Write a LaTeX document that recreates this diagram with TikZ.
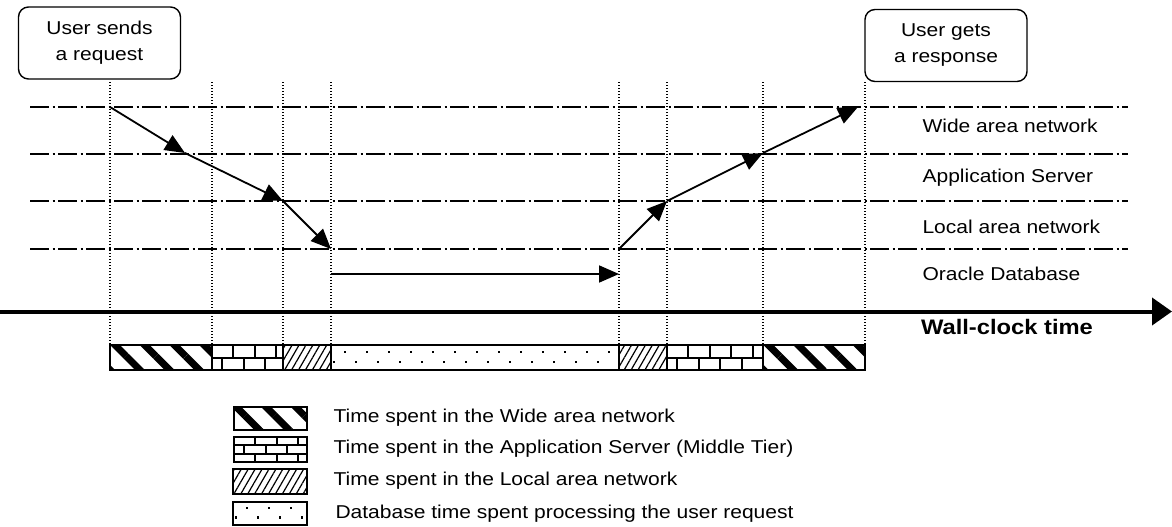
\documentclass[tikz,border=0pt]{standalone}
\usepackage{fontspec}
\setmainfont{Liberation Sans}[FakeStretch=1.13]
\usepackage{tikz}
\usetikzlibrary{arrows.meta, patterns.meta}
\tikzset{
    callout/.style={rectangle, rounded corners=10pt, draw=black, line width=1.4pt, minimum width=162pt, minimum height=72pt, align=center, font=\fontsize{18.6}{26}\selectfont},
    tier/.style={draw=black, line width=2pt, dash pattern=on 19pt off 3.5pt on 2pt off 3.5pt},
    guide/.style={draw=black, line width=1.2pt, dash pattern=on 1.2pt off 1.8pt},
    hop/.style={line width=1.8pt, -{Triangle[length=20pt, width=17pt]}},
    lbl/.style={anchor=base west, font=\fontsize{18.6}{22}\selectfont},
    seg/.style={draw=black, line width=2pt},
    mortar/.style={line width=2pt},
    wanfill/.style={pattern={Lines[angle=-45, distance=21pt, line width=7pt]}},
    lanfill/.style={pattern={Lines[angle=60, distance=6pt, line width=1.2pt]}}
}
% brick wall inside a box: x1, y1, x2, y2, row height
\newcommand{\brickfill}[5]{%
    \begin{scope}
        \clip (#1,#2) rectangle (#3,#4);
        \foreach \r in {0,...,3} {
            \draw[mortar] (#1,{#2+#5*\r}) -- (#3,{#2+#5*\r});
            \pgfmathsetmacro{\off}{mod(\r,2)==0 ? 21 : 10}
            \foreach \k in {0,...,5} {
                \draw[mortar] ({#1+\off+21.5*\k},{#2+#5*\r}) -- ++(0,#5);
            }
        }
    \end{scope}}
% staggered dots inside a box: x1, y1, x2, y2
\newcommand{\dbdots}[4]{%
    \begin{scope}
        \clip (#1,#2) rectangle (#3,#4);
        \foreach \k in {0,...,14} {
            \fill ({#1+14+22*\k-1.2},{#2+0.27*(#4-#2)-1.2}) rectangle ++(2.4,2.4);
            \fill ({#1+3+22*\k-1.2},{#2+0.68*(#4-#2)-1.2}) rectangle ++(2.4,2.4);
        }
    \end{scope}}

\begin{document}
\begin{tikzpicture}[x=1pt, y=-1pt]
    \useasboundingbox (0,0) rectangle (1172,527);

    % --- Callouts ---
    \node (request) [callout] at (99.5,43) {User sends\\a request};
    \node (response) [callout] at (946,45.5) {User gets\\a response};

    % --- Tiers ---
    \foreach \y in {107,154,201,249} \draw[tier] (30,\y) -- (1128,\y);
    \node (wan_lbl) [lbl] at (919,132) {Wide area network};
    \node (app_lbl) [lbl] at (919,182) {Application Server};
    \node (lan_lbl) [lbl] at (919,233) {Local area network};
    \node (db_lbl) [lbl] at (919,280) {Oracle Database};

    % --- Time marks ---
    \foreach \x in {110,212,283,331,619,667,763,865} \draw[guide] (\x,82) -- (\x,345);

    % --- Wall-clock axis ---
    \coordinate (t_start) at (0,311.5);
    \coordinate (t_end) at (1172,311.5);
    \draw[line width=4pt, -{Triangle[length=20pt, width=27pt]}] (t_start) -- (t_end);
    \node (clock) [font=\bfseries\fontsize{21}{24}\selectfont] at (1007,327) {Wall-clock time};

    % --- Request going down ---
    \coordinate (q0) at (110,107);
    \coordinate (q1) at (185,153);
    \coordinate (q2) at (283,201);
    \coordinate (q3) at (331,249);
    \draw[hop] (q0) -- (q1);
    \draw[hop] (q1) -- (q2);
    \draw[hop] (q2) -- (q3);

    % --- Database work ---
    \coordinate (d0) at (331,274);
    \coordinate (d1) at (619,274);
    \draw[hop] (d0) -- (d1);

    % --- Response going up ---
    \coordinate (r0) at (619,249);
    \coordinate (r1) at (667,201);
    \coordinate (r2) at (763,153);
    \coordinate (r3) at (858,107);
    \draw[hop] (r0) -- (r1);
    \draw[hop] (r1) -- (r2);
    \draw[hop] (r2) -- (r3);

    % --- Time bar ---
    \draw[seg, wanfill] (110,345) rectangle (212,370);
    \brickfill{212}{345}{283}{370}{12.5}
    \draw[seg] (212,345) rectangle (283,370);
    \draw[seg, lanfill] (283,345) rectangle (331,370);
    \dbdots{331}{345}{619}{370}
    \draw[seg] (331,345) rectangle (619,370);
    \draw[seg, lanfill] (619,345) rectangle (667,370);
    \brickfill{667}{345}{763}{370}{12.5}
    \draw[seg] (667,345) rectangle (763,370);
    \draw[seg, wanfill] (763,345) rectangle (865,370);

    % --- Legend ---
    \draw[seg, wanfill] (234,407) rectangle (307,430);
    \brickfill{234}{437}{307}{462}{8.33}
    \draw[seg] (234,437) rectangle (307,462);
    \draw[seg, lanfill] (233,469) rectangle (307,494);
    \dbdots{233}{502}{307}{525}
    \draw[seg] (233,502) rectangle (307,525);
    \node (key_wan) [lbl] at (330,422) {Time spent in the Wide area network};
    \node (key_app) [lbl] at (330,453) {Time spent in the Application Server (Middle Tier)};
    \node (key_lan) [lbl] at (330,485) {Time spent in the Local area network};
    \node (key_db) [lbl] at (332,518) {Database time spent processing the user request};

\end{tikzpicture}
\end{document}
